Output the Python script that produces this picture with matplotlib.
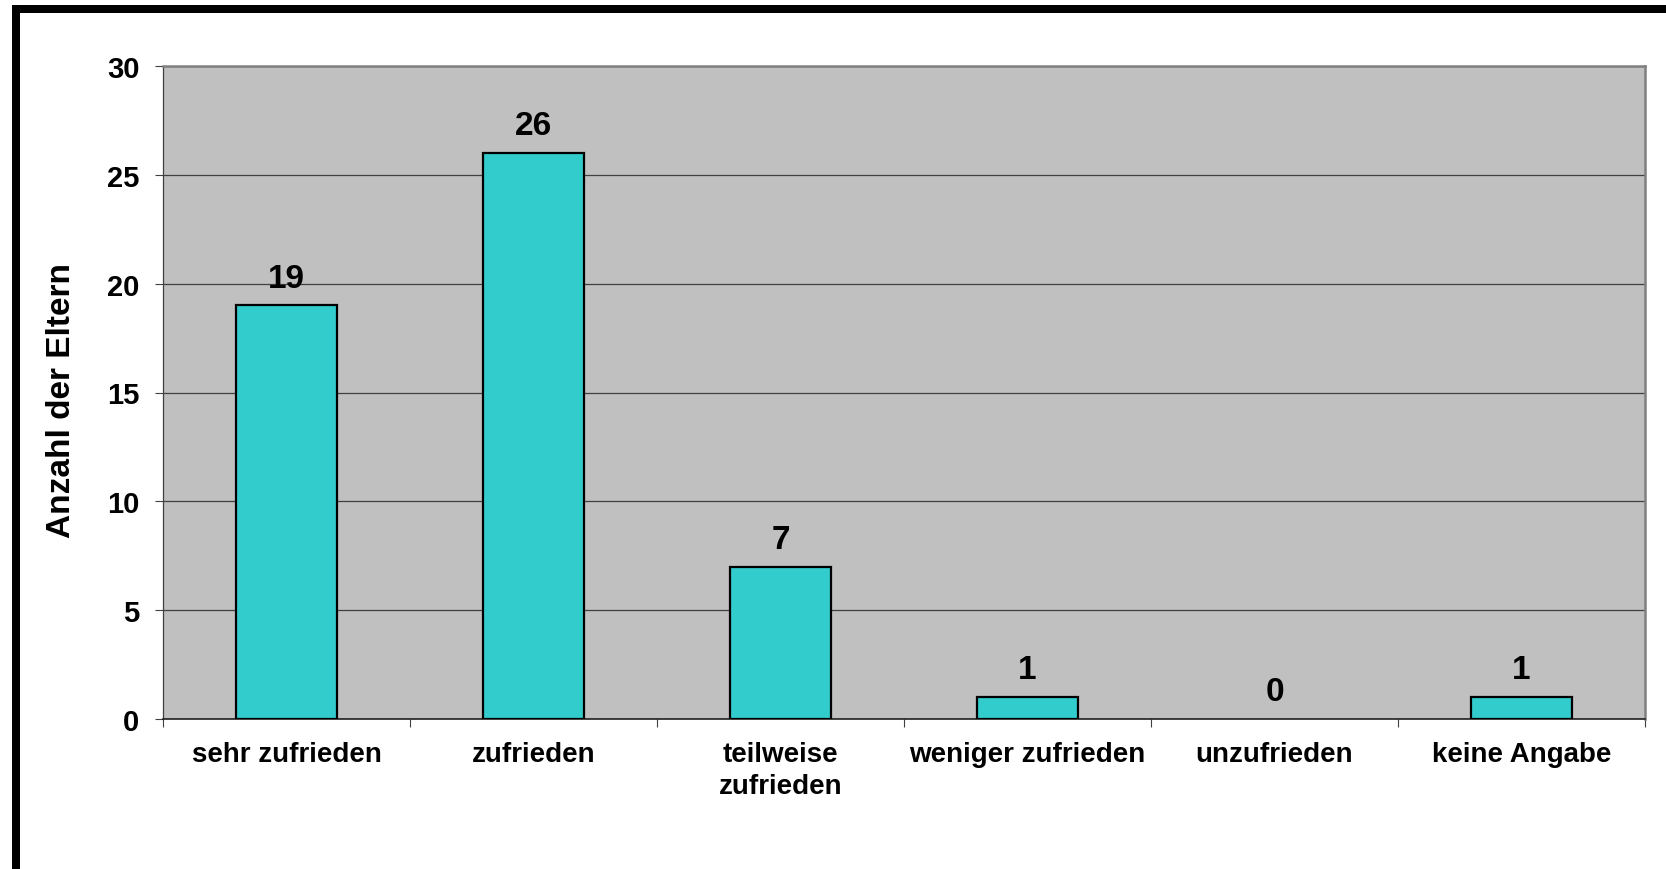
import matplotlib
matplotlib.use("Agg")
import matplotlib.pyplot as plt
from matplotlib.patches import Rectangle

# Zufriedenheit der Eltern
categories = ["sehr zufrieden", "zufrieden", "teilweise\nzufrieden",
              "weniger zufrieden", "unzufrieden", "keine Angabe"]
counts = [19, 26, 7, 1, 0, 1]
y_ticks = [0, 5, 10, 15, 20, 25, 30]

W, H, DPI = 1666, 870, 100
plt.rcParams["font.family"] = ["Liberation Sans", "DejaVu Sans"]
plt.rcParams["font.weight"] = "bold"

fig = plt.figure(figsize=(W / DPI, H / DPI), dpi=DPI)
# axes box in pixels: left 163, right 1645, top 67, bottom 720
ax = fig.add_axes([163 / W, 1 - 720 / H, (1645 - 163) / W, (720 - 67) / H])
ax.set_facecolor("#C0C0C0")

x = list(range(len(categories)))
bars = ax.bar(x, counts, width=0.405, color="#33CCCC", edgecolor="black",
              linewidth=1.6, zorder=3)
for b, v in zip(bars, counts):
    if v == 0:
        b.set_linewidth(0)
for xi, v in zip(x, counts):
    ax.annotate(str(v), (xi, v), xytext=(0, 13.5), textcoords="offset points",
                ha="center", va="baseline", fontsize=24, fontweight="bold",
                zorder=4)

ax.set_xlim(-0.5, len(categories) - 0.5)
ax.set_ylim(0, 30)
ax.set_yticks(y_ticks)
ax.yaxis.grid(True, color="#404040", linewidth=0.9, zorder=1)
ax.set_axisbelow(True)

# category separators as ticks
ax.set_xticks([i + 0.5 for i in range(-1, len(categories))], minor=False)
ax.set_xticklabels([])
ax.set_xticks(x, minor=True)
ax.set_xticklabels(categories, minor=True, fontsize=20, fontweight="bold",
                   linespacing=1.3)
ax.tick_params(axis="x", which="major", length=6, width=0.8, color="#404040")
ax.tick_params(axis="x", which="minor", length=0, pad=16)
ax.tick_params(axis="y", length=6, width=0.8, color="#404040", pad=11,
               labelsize=21)
for lbl in ax.get_yticklabels():
    lbl.set_fontweight("bold")

ax.set_ylabel("Anzahl der Eltern", fontsize=24, fontweight="bold")
ax.yaxis.set_label_coords(-0.058, 0.49)

for side in ("top", "right"):
    ax.spines[side].set_color("#808080")
    ax.spines[side].set_linewidth(1.8)
ax.spines["left"].set_color("#404040")
ax.spines["left"].set_linewidth(0.9)
ax.spines["bottom"].set_color("#202020")
ax.spines["bottom"].set_linewidth(1.2)

# thick outer frame (right and bottom edges lie outside the image)
frame = Rectangle((16 / W, -0.05), 1.1, 1 - 10 / H + 0.05,
                  transform=fig.transFigure, fill=False, edgecolor="black",
                  linewidth=8 * 72 / DPI, clip_on=False)
fig.patches.append(frame)

fig.savefig("out.png", dpi=DPI)
